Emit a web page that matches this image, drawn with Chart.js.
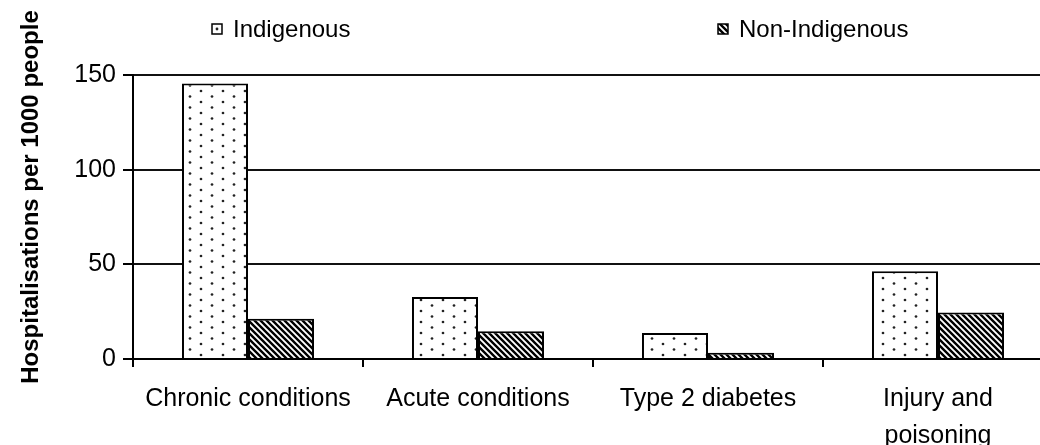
<!DOCTYPE html>
<html>
<head>
<meta charset="utf-8">
<script src="https://cdn.jsdelivr.net/npm/chart.js@4.4.0/dist/chart.umd.min.js"></script>
<style>
    html, body { margin: 0; padding: 0; background: #fff; overflow: hidden; }
    #wrap { width: 1040px; height: 445px; overflow: hidden; }
</style>
</head>
<body>
<div id="wrap"><canvas id="grafico" width="1053" height="445"></canvas></div>
<script>
// dados
const categorias = ['Chronic conditions', 'Acute conditions', 'Type 2 diabetes', ['Injury and', 'poisoning']];
const indigenous = [145.5, 32.7, 13.7, 46.3];
const nonIndigenous = [21.3, 14.6, 3.3, 24.6];
const seriesNomes = ['Indigenous', 'Non-Indigenous'];
const yTicks = [0, 50, 100, 150];
const yTitulo = 'Hospitalisations per 1000 people';

const FONTE = '"Liberation Sans", Arial, sans-serif';

function padraoPontos() {
    const c = document.createElement('canvas');
    c.width = 22; c.height = 11;
    const g = c.getContext('2d');
    g.fillStyle = '#fff';
    g.fillRect(0, 0, 22, 11);
    g.fillStyle = '#222';
    [[3, 3], [14, 8.5]].forEach(([x, y]) => {
        g.beginPath();
        g.arc(x, y, 1.35, 0, Math.PI * 2);
        g.fill();
    });
    return g.createPattern(c, 'repeat');
}

function padraoListras() {
    const s = 6;
    const c = document.createElement('canvas');
    c.width = s; c.height = s;
    const g = c.getContext('2d');
    g.fillStyle = '#fff';
    g.fillRect(0, 0, s, s);
    g.strokeStyle = '#000';
    g.lineWidth = 2.4;
    g.beginPath();
    g.moveTo(-1, -1); g.lineTo(s + 1, s + 1);
    g.moveTo(-1, s - 1); g.lineTo(1, s + 1);
    g.moveTo(s - 1, -1); g.lineTo(s + 1, 1);
    g.stroke();
    return g.createPattern(c, 'repeat');
}

const pontos = padraoPontos();
const listras = padraoListras();

// legenda e titulo do eixo desenhados à mão (posições do original)
const legendaManual = {
    id: 'legendaManual',
    afterDraw(chart) {
        const ctx = chart.ctx;
        const itens = [
            { texto: seriesNomes[0], fill: '#fff', ponto: true, x: 212 },
            { texto: seriesNomes[1], fill: listras, ponto: false, x: 718 }
        ];
        ctx.save();
        ctx.font = '24px ' + FONTE;
        ctx.textBaseline = 'middle';
        ctx.textAlign = 'left';
        itens.forEach(item => {
            ctx.fillStyle = item.fill;
            ctx.fillRect(item.x, 24, 10, 10);
            ctx.strokeStyle = '#000';
            ctx.lineWidth = 1.5;
            ctx.strokeRect(item.x, 24, 10, 10);
            if (item.ponto) {
                ctx.fillStyle = '#222';
                ctx.beginPath();
                ctx.arc(item.x + 5, 29, 1.4, 0, Math.PI * 2);
                ctx.fill();
            }
            ctx.fillStyle = '#000';
            ctx.fillText(item.texto, item.x + 21, 30);
        });

        ctx.translate(31, 197);
        ctx.rotate(-Math.PI / 2);
        ctx.font = 'bold 24px ' + FONTE;
        ctx.textAlign = 'center';
        ctx.fillText(yTitulo, 0, 0);
        ctx.restore();
    }
};

const ctx = document.getElementById('grafico').getContext('2d');

new Chart(ctx, {
    type: 'bar',
    data: {
        labels: categorias,
        datasets: [{
            label: seriesNomes[0],
            data: indigenous,
            backgroundColor: pontos,
            borderColor: '#000',
            borderWidth: 2
        }, {
            label: seriesNomes[1],
            data: nonIndigenous,
            backgroundColor: listras,
            borderColor: '#000',
            borderWidth: 2
        }]
    },
    options: {
        responsive: false,
        animation: false,
        devicePixelRatio: 1,
        layout: { padding: { top: 75, right: 0, left: 0, bottom: 0 } },
        datasets: {
            bar: { categoryPercentage: 0.574, barPercentage: 1 }
        },
        plugins: {
            legend: { display: false },
            tooltip: { enabled: false }
        },
        scales: {
            x: {
                grid: {
                    drawOnChartArea: false,
                    drawTicks: true,
                    tickLength: 8,
                    color: '#000',
                    lineWidth: 2
                },
                border: { color: '#000', width: 2 },
                ticks: {
                    color: '#000',
                    padding: 14,
                    maxRotation: 0,
                    autoSkip: false,
                    font: { family: FONTE, size: 25, lineHeight: 1.48 }
                },
                afterFit: (scale) => { scale.height = 86; }
            },
            y: {
                min: 0,
                max: 150,
                afterBuildTicks: (scale) => {
                    scale.ticks = yTicks.map(v => ({ value: v }));
                },
                grid: {
                    color: '#111',
                    lineWidth: 2,
                    drawTicks: true,
                    tickLength: 10,
                    tickColor: '#000'
                },
                border: { color: '#000', width: 2 },
                ticks: {
                    color: '#000',
                    padding: 7,
                    font: { family: FONTE, size: 25 }
                },
                afterFit: (scale) => { scale.width = 133; }
            }
        }
    },
    plugins: [legendaManual]
});
</script>
</body>
</html>
